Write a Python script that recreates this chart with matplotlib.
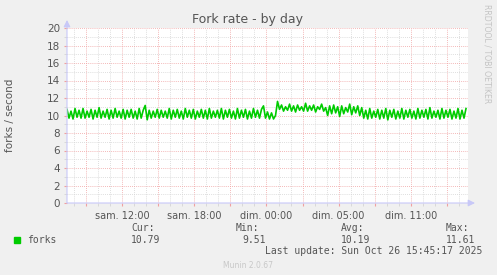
import matplotlib
matplotlib.use("Agg")
import matplotlib.pyplot as plt
import matplotlib.dates as mdates
import pandas as pd

# fork rate, one reading every 10 minutes
forks = [
    10.7, 9.7, 10.5, 9.6, 10.8, 9.8, 10.6, 9.7, 10.8, 9.7,
    10.5, 9.8, 10.7, 9.6, 10.6, 9.8, 10.9, 9.7, 10.5, 9.8,
    10.7, 9.6, 10.6, 9.7, 10.8, 9.8, 10.5, 9.7, 10.7, 9.6,
    10.6, 9.8, 10.7, 9.7, 10.5, 9.6, 10.8, 9.7, 10.6, 11.15,
    9.51, 10.6, 9.7, 10.5, 9.8, 10.7, 9.7, 10.6, 9.8, 10.5,
    9.7, 10.8, 9.6, 10.6, 9.8, 10.7, 9.7, 10.5, 9.6, 10.8,
    9.8, 10.6, 9.7, 10.7, 9.6, 10.5, 9.8, 10.7, 9.7, 10.6,
    9.6, 10.8, 9.7, 10.5, 9.8, 10.6, 9.7, 10.8, 9.6, 10.6,
    9.8, 10.7, 9.7, 10.5, 9.6, 10.8, 9.7, 10.6, 9.8, 10.7,
    9.6, 10.5, 9.7, 10.8, 9.8, 10.6, 9.7, 10.7, 11.1,
    9.7, 10.4, 9.6, 10.3, 9.6, 10.0,
    11.61, 10.7, 11.2, 10.5, 11.0, 10.6, 11.3, 10.5, 11.1, 10.4,
    11.2, 10.6, 11.0, 10.5, 11.4, 10.5, 11.1, 10.6, 11.2, 10.4,
    11.0, 10.7, 11.3, 10.5, 10.9, 10.0, 11.1, 10.2, 11.2, 10.3,
    11.0, 9.9, 11.1, 10.2, 10.9, 10.4, 11.3, 10.1, 11.0, 10.3,
    11.1, 10.0, 10.9,
    9.7, 10.6, 9.6, 10.8, 9.7, 10.5, 9.8, 10.7, 9.6, 10.6,
    9.7, 10.8, 9.5, 10.6, 9.8, 10.7, 9.6, 10.5, 9.7, 10.8,
    9.6, 10.6, 9.8, 10.7, 9.7, 10.5, 9.6, 10.8, 9.7, 10.6,
    9.8, 10.7, 9.6, 10.9, 9.7, 10.5, 9.8, 10.6, 9.6, 10.8,
    9.7, 10.6, 9.8, 10.7, 9.6, 10.5, 9.7, 10.8, 9.6, 10.6,
    9.7, 10.79,
]

start = pd.Timestamp("2025-10-25 05:25")   # UTC
end = pd.Timestamp("2025-10-26 14:45")     # UTC, last update 15:45 CET
times = pd.date_range(start, periods=len(forks), freq="10min")

# labels are local time (DST ends during the night, hence 00:00 -> 05:00)
label_times = pd.date_range("2025-10-25 10:00", periods=5, freq="6h")
label_text = ["sam. 12:00", "sam. 18:00", "dim. 00:00", "dim. 05:00", "dim. 11:00"]

stats_names = ["Cur:", "Min:", "Avg:", "Max:"]
stats_values = ["10.79", "9.51", "10.19", "11.61"]

bg = "#F0F0F0"
txt = "#555555"
W, H = 497, 275

fig = plt.figure(figsize=(W / 100, H / 100), dpi=100, facecolor=bg)
ax = fig.add_axes([67 / W, 1 - 203 / H, 401 / W, 175 / H])
ax.set_facecolor("white")

ax.plot(times, forks, color="#00CC00", lw=1.2, zorder=3)

ax.set_xlim(start, end)
ax.set_ylim(0, 20)

# grid: red dotted majors, grey dotted minors
ax.yaxis.set_major_locator(plt.MultipleLocator(2))
ax.yaxis.set_minor_locator(plt.MultipleLocator(1))
hours3 = pd.date_range("2025-10-25 07:00", end, freq="3h")
hours1 = pd.date_range("2025-10-25 06:00", end, freq="1h")
ax.set_xticks(mdates.date2num(hours3))
ax.set_xticks(mdates.date2num(hours1), minor=True)
ax.set_xticklabels([])
ax.grid(which="major", color="#F0A0A0", ls=(0, (1, 1.5)), lw=0.6)
ax.grid(which="minor", color="#D4D4D4", ls=(0, (1, 1.5)), lw=0.6)
ax.set_axisbelow(True)

ax.tick_params(which="major", axis="x", length=2, color="#F0A0A0")
ax.tick_params(which="minor", axis="x", length=2, color="#D4D4D4")
ax.tick_params(which="major", axis="y", length=2, color="#F0A0A0",
               labelsize=7.5, labelcolor=txt, pad=3)
ax.tick_params(which="minor", axis="y", length=2, color="#D4D4D4")

for s in ax.spines.values():
    s.set_visible(False)

for t, lab in zip(label_times, label_text):
    ax.text(mdates.date2num(t), -0.9, lab, ha="center", va="top",
            fontsize=7, color=txt)

# axis arrows
arrow = dict(arrowstyle="-|>,head_length=0.4,head_width=0.2",
             color="#C8C8F8", lw=0.8, shrinkA=0, shrinkB=0)
ax.annotate("", xy=(67 / W, 1 - 20 / H), xytext=(67 / W, 1 - 203 / H),
            xycoords="figure fraction", arrowprops=arrow, annotation_clip=False)
ax.annotate("", xy=(475 / W, 1 - 203 / H), xytext=(67 / W, 1 - 203 / H),
            xycoords="figure fraction", arrowprops=arrow, annotation_clip=False)

fig.text(248 / W, 1 - 19 / H, "Fork rate - by day", ha="center", va="center",
         fontsize=9, color=txt)
fig.text(10 / W, 1 - 115 / H, "forks / second", rotation=90, ha="center",
         va="center", fontsize=7.5, color=txt)
fig.text(487 / W, 1 - 54 / H, "RRDTOOL / TOBI OETIKER", rotation=270,
         ha="center", va="center", fontsize=5.6, color="#C4C4C4")

mono = "DejaVu Sans Mono"
fig.patches.append(plt.Rectangle((14 / W, 1 - 243 / H), 6 / W, 6 / H,
                                 transform=fig.transFigure, color="#00CC00"))
fig.text(27 / W, 1 - 240 / H, "forks", family=mono, fontsize=7,
         color=txt, va="center")
for i, (name, val) in enumerate(zip(stats_names, stats_values)):
    x = (131 + i * 105) / W
    xv = (131 + i * 105 + (6 if len(val) < 5 else 0)) / W
    fig.text(x, 1 - 228 / H, name, family=mono, fontsize=7, color=txt, va="center")
    fig.text(xv, 1 - 240 / H, val, family=mono, fontsize=7, color=txt, va="center")
fig.text(482 / W, 1 - 251 / H, "Last update: Sun Oct 26 15:45:17 2025",
         family=mono, fontsize=7, color=txt, ha="right", va="center")
fig.text(248 / W, 1 - 266 / H, "Munin 2.0.67", fontsize=5.5, color="#C8C8C8",
         ha="center", va="center")

fig.savefig("out.png", dpi=100, facecolor=bg)
